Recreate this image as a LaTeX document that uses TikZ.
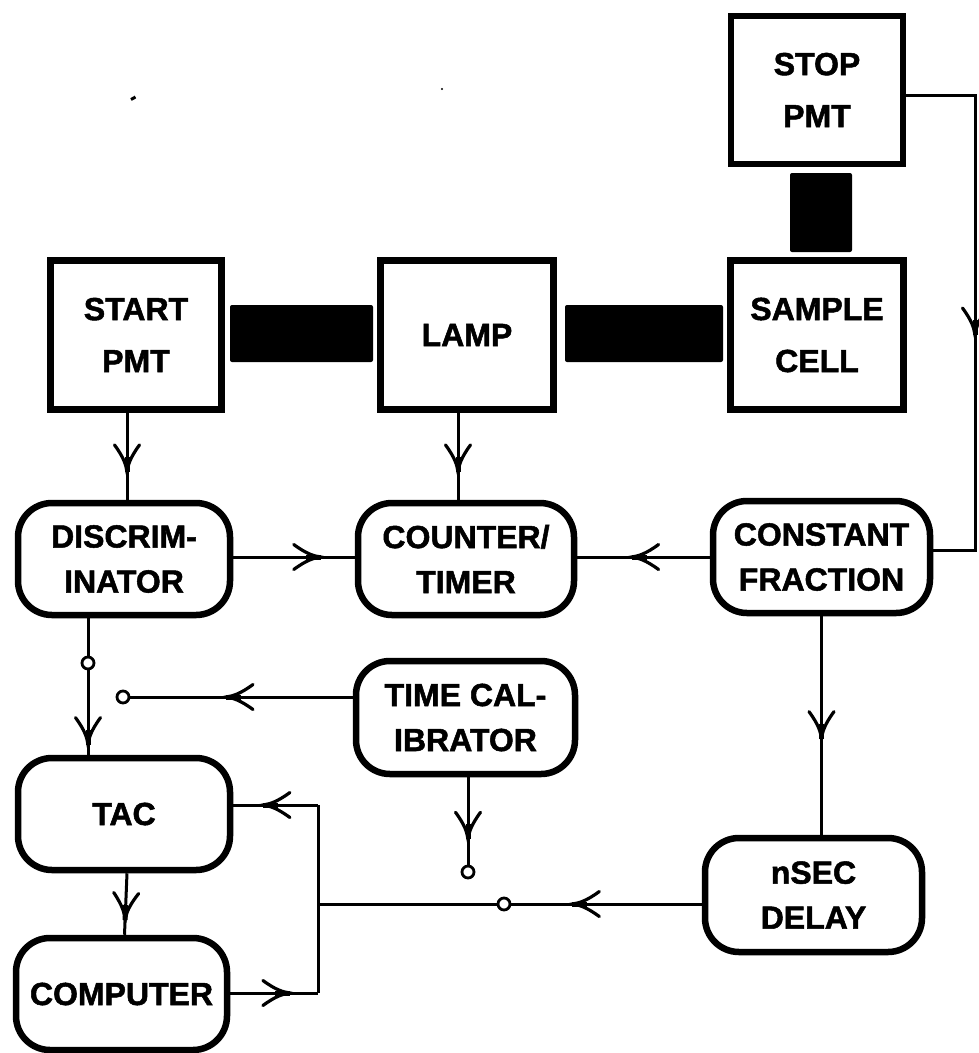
\documentclass[tikz,border=0pt]{standalone}
\usepackage{fontspec}
\setmainfont{Liberation Sans}[BoldFont={Liberation Sans Bold},BoldFeatures={FakeBold=1.6}]
\usetikzlibrary{decorations.markings}
\begin{document}
\begin{tikzpicture}[x=1pt,y=-1pt,
  sqbox/.style={draw, line width=6.5pt, align=center, inner sep=0pt,
    font=\bfseries\fontsize{32}{52}\selectfont},
  rdbox/.style={draw, line width=6.5pt, rounded corners=34pt, align=center, inner sep=0pt,
    font=\bfseries\fontsize{32}{45}\selectfont},
  bar/.style={fill=black, rounded corners=2pt, inner sep=0pt},
  conn/.style={line width=3pt},
  contact/.style={circle, draw, fill=white, line width=2.8pt, minimum size=12pt, inner sep=0pt},
  midarrow/.style={postaction={decorate, decoration={markings,
    mark=at position #1 with {\draw[line width=3.2pt, line cap=round]
      (-27pt,12.5pt) .. controls (-14pt,3pt) and (-7pt,1pt) .. (0pt,0pt)
      .. controls (-7pt,-1pt) and (-14pt,-3pt) .. (-27pt,-12.5pt);
      \fill (-15pt,-2.5pt) rectangle (0pt,2.5pt);}}}}
]
\useasboundingbox (0,0) rectangle (978,1053);

% square boxes
\node[sqbox, minimum width=171pt, minimum height=149pt] (start) at (136,335) {START\\PMT};
\node[sqbox, minimum width=173pt, minimum height=149pt] (lamp) at (467,335) {LAMP};
\node[sqbox, minimum width=173pt, minimum height=149pt] (sample) at (817,335) {SAMPLE\\CELL};
\node[sqbox, minimum width=172pt, minimum height=148pt] (stop) at (817,90) {STOP\\PMT};

% light paths
\node[bar, minimum width=143pt, minimum height=57pt] (bar1) at (301.5,333.5) {};
\node[bar, minimum width=158pt, minimum height=57pt] (bar2) at (644,333.5) {};
\node[bar, minimum width=62pt, minimum height=79pt] (bar3) at (821,212.5) {};

% rounded boxes
\node[rdbox, minimum width=212pt, minimum height=112pt] (disc) at (124,559) {DISCRIM-\\INATOR};
\node[rdbox, minimum width=216pt, minimum height=112pt] (counter) at (466,559) {COUNTER/\\TIMER};
\node[rdbox, minimum width=217pt, minimum height=112pt] (cf) at (821.5,557) {CONSTANT\\FRACTION};
\node[rdbox, minimum width=219pt, minimum height=113pt] (tc) at (465.5,717.5) {TIME CAL-\\IBRATOR};
\node[rdbox, minimum width=212pt, minimum height=112pt] (tac) at (124,814) {TAC};
\node[rdbox, minimum width=211pt, minimum height=112pt] (comp) at (121.5,994) {COMPUTER};
\node[rdbox, minimum width=217pt, minimum height=114pt] (nsec) at (813.5,895) {nSEC\\DELAY};

% contacts and junctions
\node[contact] (c1) at (88,663) {};
\node[contact] (c2) at (123,697) {};
\node[contact] (c3) at (468,872) {};
\node[contact] (c4) at (504,904) {};
\coordinate (jt) at (318,805);
\coordinate (jm) at (318,904);
\coordinate (jb) at (318,993);
\coordinate (ra) at (975,95);
\coordinate (rb) at (975,550);

% connectors
\draw[conn, midarrow=0.68] ([xshift=3pt]disc.north |- start.south) -- ([xshift=3pt]disc.north);
\draw[conn, midarrow=0.68] ([xshift=-8pt]counter.north |- lamp.south) -- ([xshift=-8pt]counter.north);
\draw[conn, midarrow=0.546] (stop.east |- ra) -- (ra) -- (rb) -- (rb -| cf.east);
\draw[conn, midarrow=0.72] (disc.east |- 0,557) -- (counter.west |- 0,557);
\draw[conn, midarrow=0.59] (cf.west |- 0,557) -- (counter.east |- 0,557);
\draw[conn] (c1 |- disc.south) -- (c1);
\draw[conn, midarrow=0.88] (c1) -- (c1 |- tac.north);
\draw[conn, midarrow=0.57] (c2 -| tc.west) -- (c2);
\draw[conn, midarrow=0.71] (c3 |- tc.south) -- (c3);
\draw[conn, midarrow=0.56] (cf.south) -- (cf.south |- nsec.north);
\draw[conn, midarrow=0.76] ([xshift=3pt]tac.south) -- ([xshift=3pt]comp.north);
\draw[conn, midarrow=0.68] (c4 -| nsec.west) -- (c4);
\draw[conn] (c4) -- (jm);
\draw[conn, midarrow=0.68] (comp.east |- jb) -- (jb);
\draw[conn] (jb) -- (jt);
\draw[conn, midarrow=0.65] (jt) -- (jt -| tac.east);

% scan specks
\draw[line width=3pt] (131,99.5) -- (135.5,97);
\fill (442,89) circle (1.2pt);
\end{tikzpicture}
\end{document}
